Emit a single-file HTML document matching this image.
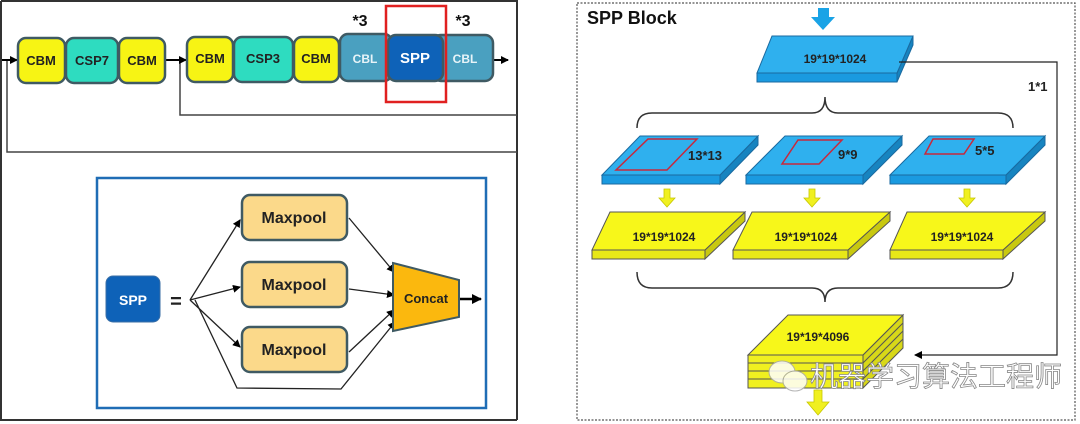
<!DOCTYPE html>
<html><head><meta charset="utf-8"><style>
html,body{margin:0;padding:0;background:#fff;}
svg{display:block;font-family:"Liberation Sans","Noto Sans CJK SC",sans-serif;}
.b{font-weight:bold;}
</style></head><body>
<svg width="1080" height="424" viewBox="0 0 1080 424" xmlns="http://www.w3.org/2000/svg">
<defs>
<marker id="ah" markerWidth="8" markerHeight="8" refX="7" refY="4" orient="auto" markerUnits="userSpaceOnUse"><path d="M0,0 L8,4 L0,8 z" fill="#000"/></marker>
<marker id="ah2" markerWidth="10" markerHeight="10" refX="9" refY="5" orient="auto" markerUnits="userSpaceOnUse"><path d="M0,0 L10,5 L0,10 z" fill="#000"/></marker>
</defs>
<!-- left panel frame -->
<path d="M1,1 H517 V420" fill="none" stroke="#333" stroke-width="2"/>
<path d="M1,1 V420 H517" fill="none" stroke="#333" stroke-width="2"/>
<!-- feedback lines -->
<path d="M7,60 V152 H517" fill="none" stroke="#444" stroke-width="1.5"/>
<path d="M180,60 V115 H517" fill="none" stroke="#444" stroke-width="1.5"/>
<line x1="2" y1="60" x2="17" y2="60" stroke="#000" stroke-width="2" marker-end="url(#ah)"/>
<line x1="164" y1="60" x2="186" y2="60" stroke="#000" stroke-width="2" marker-end="url(#ah)"/>
<line x1="494" y1="60" x2="508" y2="60" stroke="#000" stroke-width="2" marker-end="url(#ah)"/>
<g stroke="#3f5a63" stroke-width="2.5" font-size="13" class="b" text-anchor="middle">
<rect x="18" y="38" width="47" height="45" rx="8" fill="#f7f414"/>
<rect x="66" y="38" width="52" height="45" rx="8" fill="#2edcc0"/>
<rect x="119" y="38" width="46" height="45" rx="8" fill="#f7f414"/>
<rect x="187" y="37" width="46" height="45" rx="8" fill="#f7f414"/>
<rect x="234" y="37" width="59" height="45" rx="8" fill="#2edcc0"/>
<rect x="294" y="37" width="45" height="45" rx="8" fill="#f7f414"/>
<rect x="340" y="34" width="52" height="47" rx="8" fill="#4aa0c0"/>
<rect x="433" y="35" width="60" height="46" rx="8" fill="#4aa0c0"/>
<rect x="388" y="35" width="55" height="46" rx="8" fill="#0e62b8"/>
</g>
<g font-size="13" class="b" text-anchor="middle" fill="#222">
<text x="41" y="65">CBM</text><text x="92" y="65">CSP7</text><text x="142" y="65">CBM</text>
<text x="210" y="63">CBM</text><text x="263" y="63">CSP3</text><text x="316" y="63">CBM</text>
<text x="365" y="63" fill="#e8f4f8" font-size="12">CBL</text>
<text x="415" y="63" fill="#fff" font-size="15">SPP</text>
<text x="465" y="63" fill="#e8f4f8" font-size="12">CBL</text>
<text x="360" y="26" font-size="16" fill="#111">*3</text>
<text x="463" y="26" font-size="16" fill="#111">*3</text>
</g>
<rect x="386" y="6" width="60" height="96" fill="none" stroke="#e02020" stroke-width="2.5"/>
<!-- SPP definition -->
<rect x="97" y="178" width="389" height="230" fill="none" stroke="#1f6db5" stroke-width="2.5"/>
<rect x="106" y="276" width="54" height="46" rx="7" fill="#0e62b8" stroke="#3b6fa6"/>
<text x="133" y="305" font-size="14" class="b" fill="#fff" text-anchor="middle">SPP</text>
<text x="176" y="308" font-size="20" class="b" fill="#222" text-anchor="middle">=</text>
<g stroke="#222" stroke-width="1.3" fill="none">
<line x1="190" y1="300" x2="240" y2="220" marker-end="url(#ah)"/>
<line x1="190" y1="300" x2="240" y2="287" marker-end="url(#ah)"/>
<line x1="190" y1="300" x2="240" y2="347" marker-end="url(#ah)"/>
<path d="M195,300 L237,388 L341,389 L395,322" marker-end="url(#ah)"/>
<line x1="349" y1="218" x2="394" y2="272" marker-end="url(#ah)"/>
<line x1="349" y1="289" x2="394" y2="295" marker-end="url(#ah)"/>
<line x1="349" y1="352" x2="394" y2="310" marker-end="url(#ah)"/>
</g>
<g stroke="#3f5a63" stroke-width="2.5" fill="#fbd98a">
<rect x="242" y="195" width="105" height="45" rx="8"/>
<rect x="242" y="262" width="105" height="45" rx="8"/>
<rect x="242" y="327" width="105" height="45" rx="8"/>
</g>
<g font-size="16" class="b" fill="#222" text-anchor="middle">
<text x="294" y="223">Maxpool</text><text x="294" y="290">Maxpool</text><text x="294" y="355">Maxpool</text>
</g>
<polygon points="393,263 459,280 459,317 393,331" fill="#fbb80e" stroke="#3f5a63" stroke-width="2"/>
<text x="426" y="303" font-size="13" class="b" fill="#222" text-anchor="middle">Concat</text>
<line x1="460" y1="299" x2="481" y2="299" stroke="#000" stroke-width="2.5" marker-end="url(#ah2)"/>

<!-- right panel -->
<rect x="577" y="3" width="498" height="417" fill="none" stroke="#555" stroke-width="1.2" stroke-dasharray="2,1.5"/>
<text x="587" y="24" font-size="18" class="b" fill="#111">SPP Block</text>
<polygon points="818,8 829,8 829,17 835,17 823,30 811,17 818,17" fill="#1aa3e6"/>
<!-- top blue slab -->
<g stroke="#1a6aa0" stroke-width="1">
<polygon points="757,73 897,73 897,82 757,82" fill="#1a9ae0"/>
<polygon points="897,73 913,36 913,45 897,82" fill="#1784c0"/>
<polygon points="772,36 913,36 897,73 757,73" fill="#2fb0ee"/>
</g>
<text x="835" y="63" font-size="12" class="b" fill="#222" text-anchor="middle">19*19*1024</text>
<path d="M899,62 H1057 V355 H915" fill="none" stroke="#222" stroke-width="1.2" marker-end="url(#ah)"/>
<text x="1028" y="91" font-size="13" class="b" fill="#222">1*1</text>
<!-- braces -->
<path d="M637,128 Q637,113 652,113 H812 Q825,113 825,97 Q825,113 838,113 H998 Q1013,113 1013,128" fill="none" stroke="#333" stroke-width="1.5"/>
<path d="M637,272 Q637,288 652,288 H812 Q825,288 825,302 Q825,288 838,288 H998 Q1013,288 1013,272" fill="none" stroke="#333" stroke-width="1.5"/>
<!-- blue slabs row -->
<g stroke="#1a6aa0" stroke-width="1">
<polygon points="602,175 720,175 720,184 602,184" fill="#1a9ae0"/><polygon points="720,175 758,136 758,145 720,184" fill="#1784c0"/><polygon points="640,136 758,136 720,175 602,175" fill="#2fb0ee"/>
<polygon points="746,175 863,175 863,184 746,184" fill="#1a9ae0"/><polygon points="863,175 902,136 902,145 863,184" fill="#1784c0"/><polygon points="785,136 902,136 863,175 746,175" fill="#2fb0ee"/>
<polygon points="890,175 1006,175 1006,184 890,184" fill="#1a9ae0"/><polygon points="1006,175 1045,136 1045,145 1006,184" fill="#1784c0"/><polygon points="929,136 1045,136 1006,175 890,175" fill="#2fb0ee"/>
</g>
<g fill="none" stroke="#c8283c" stroke-width="1.5">
<polygon points="648,139 697,139 667,170 616,170"/>
<polygon points="798,140 842,140 819,164 782,164"/>
<polygon points="933,139 974,139 964,154 925,154"/>
</g>
<g font-size="13" class="b" fill="#222">
<text x="688" y="160">13*13</text><text x="838" y="159">9*9</text><text x="975" y="155">5*5</text>
</g>
<!-- yellow arrows -->
<g fill="#f0f020" stroke="#c8c800" stroke-width="0.8">
<polygon points="664,189 670,189 670,198 675,198 667,207 659,198 664,198"/>
<polygon points="809,189 815,189 815,198 820,198 812,207 804,198 809,198"/>
<polygon points="964,189 970,189 970,198 975,198 967,207 959,198 964,198"/>
<polygon points="814,390 822,390 822,402 829,402 818,415 807,402 814,402"/>
</g>
<!-- yellow slabs -->
<g stroke="#555" stroke-width="1">
<polygon points="592,250 705,250 705,259 592,259" fill="#e8e818"/><polygon points="705,250 745,212 745,221 705,259" fill="#c8c810"/><polygon points="610,212 745,212 705,250 592,250" fill="#f7f71a"/>
<polygon points="733,250 848,250 848,259 733,259" fill="#e8e818"/><polygon points="848,250 890,212 890,221 848,259" fill="#c8c810"/><polygon points="752,212 890,212 848,250 733,250" fill="#f7f71a"/>
<polygon points="890,250 1003,250 1003,259 890,259" fill="#e8e818"/><polygon points="1003,250 1045,212 1045,221 1003,259" fill="#c8c810"/><polygon points="907,212 1045,212 1003,250 890,250" fill="#f7f71a"/>
</g>
<g font-size="12" class="b" fill="#222" text-anchor="middle">
<text x="664" y="241">19*19*1024</text><text x="806" y="241">19*19*1024</text><text x="962" y="241">19*19*1024</text>
</g>
<!-- stack -->
<g stroke="#555" stroke-width="1">
<rect x="748" y="355" width="115" height="33" fill="#f0f020"/>
<line x1="748" y1="363" x2="863" y2="363"/><line x1="748" y1="371" x2="863" y2="371"/><line x1="748" y1="379" x2="863" y2="379"/>
<polygon points="863,355 903,315 903,348 863,388" fill="#d8d818"/>
<line x1="863" y1="363" x2="903" y2="323"/><line x1="863" y1="371" x2="903" y2="331"/><line x1="863" y1="379" x2="903" y2="339"/>
<polygon points="788,315 903,315 863,355 748,355" fill="#f7f71a"/>
</g>
<text x="818" y="341" font-size="12" class="b" fill="#222" text-anchor="middle">19*19*4096</text>
<!-- watermark -->
<g opacity="0.85">
<ellipse cx="782" cy="372" rx="13" ry="11" fill="#fff" stroke="#aaa"/>
<ellipse cx="795" cy="381" rx="12" ry="10" fill="#fff" stroke="#aaa"/>
</g>
<text x="810" y="386" font-size="28" fill="#fff" stroke="#888" stroke-width="0.8" font-family="'Noto Sans CJK SC',sans-serif">机器学习算法工程师</text>
</svg>
</body></html>
